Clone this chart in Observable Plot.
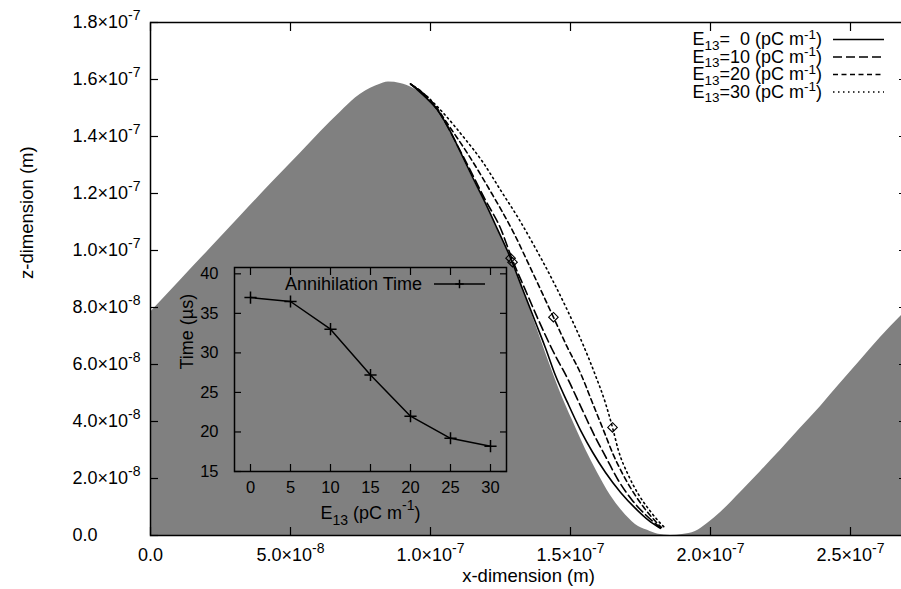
<!DOCTYPE html>
<html>
<head>
<meta charset="utf-8">
<script src="https://cdn.jsdelivr.net/npm/d3@7"></script>
<script src="https://cdn.jsdelivr.net/npm/@observablehq/plot@0.6"></script>
<style>
html, body { margin: 0; padding: 0; background: #fff; overflow: hidden; }
#chart { position: relative; width: 901px; height: 589px; overflow: hidden;
  font-family: "Liberation Sans", Arial, Helvetica, sans-serif; }
.lg { position: absolute; white-space: pre; font-size: 18px; line-height: 17px; height: 17px; color: #000; }
.lg sup, .lg sub { font-size: 0.75em; position: relative; vertical-align: baseline; line-height: 0; }
.lg sup { top: -0.45em; }
.lg sub { top: 0.35em; }
</style>
</head>
<body>
<div id="chart"></div>
<script>
// ---------------- data (lengths in nm) ----------------
// gray surface profile
const surfaceX = [0, 10.7, 21.4, 32.1, 42.9, 53.6, 60.7, 67.9, 73.2, 76.8, 80.4, 83.2, 85.0,
  89.3, 93.6, 98.2, 102.5, 106.8, 110.7, 115.0, 119.6, 123.9, 128.6, 132.9, 137.5, 141.8,
  146.4, 150.7, 155.4, 159.6, 164.3, 168.6, 173.2, 177.5, 181.4, 185.7, 190.0, 194.6, 198.9,
  203.6, 210.7, 217.9, 225.0, 232.1, 239.3, 246.4, 253.6, 260.7, 270.0];
const surfaceZ = [78.3, 89.6, 100.8, 112.0, 123.3, 134.2, 141.6, 148.6, 153.5, 156.0, 157.7, 158.8, 159.1,
  158.6, 157.0, 154.0, 149.5, 142.3, 134.2, 125.4, 116.6, 107.5, 97.3, 86.4, 74.1, 62.2,
  50.2, 40.4, 30.2, 22.1, 14.0, 8.4, 3.9, 1.8, 0.4, 0, 0.35, 1.4, 4.2,
  8.1, 15.1, 22.5, 29.9, 37.6, 45.3, 53.4, 61.5, 69.5, 79.0];

// trajectories for E13 = 0, 10, 20, 30 pC/m
const seriesE = [0, 10, 20, 30];
const curveX_E0 = [92.9, 98.2, 102.5, 106.8, 110.7, 115.0, 119.6, 123.9, 128.6, 132.9, 137.5, 141.1,
  144.6, 148.9, 153.6, 157.9, 162.5, 167.9, 173.2, 177.9, 182.1];
const curveZ_E0 = [158.4, 153.8, 149.3, 142.3, 134.5, 125.7, 116.6, 107.5, 97.3, 86.4, 74.8, 65.7,
  56.2, 46.7, 36.9, 29.2, 22.1, 15.1, 9.5, 5.3, 2.5];
const curveX_E10 = [92.9, 102.5, 111.4, 119.6, 125.0, 129.3, 133.9, 138.6, 143.6, 149.3, 154.3, 158.9,
  162.9, 167.1, 172.1, 177.1, 182.1];
const curveZ_E10 = [158.4, 149.3, 133.5, 117.7, 107.8, 96.6, 86.1, 75.5, 65.0, 54.4, 43.9, 34.4,
  27.0, 19.3, 12.3, 7.0, 2.8];
const curveX_E20 = [92.9, 100.0, 107.1, 114.3, 121.4, 129.6, 136.4, 143.9, 148.9, 153.6, 157.9, 161.8,
  165.4, 168.9, 173.2, 177.9, 182.5];
const curveZ_E20 = [158.4, 152.8, 143.0, 132.4, 120.8, 106.4, 92.4, 76.6, 66.0, 56.9, 46.4, 36.9,
  28.1, 21.1, 14.0, 7.7, 2.8];
const curveX_E30 = [92.9, 98.2, 104.6, 111.8, 118.9, 125.0, 131.4, 137.5, 143.6, 148.9, 154.3, 158.9,
  162.5, 165.0, 167.1, 170.7, 174.3, 178.6, 181.8, 183.6];
const curveZ_E30 = [158.4, 154.5, 148.2, 139.8, 130.7, 121.2, 111.3, 100.8, 89.6, 79.0, 67.4, 56.2,
  46.4, 37.9, 29.9, 21.1, 14.4, 8.4, 4.6, 2.8];

// open diamond markers on each trajectory
const markerX = [128.6, 129.3, 143.9, 165.0];
const markerZ = [97.3, 95.9, 76.6, 37.9];

// inset: annihilation time vs E13
const insetE = [0, 5, 10, 15, 20, 25, 30];
const insetTime = [37.0, 36.5, 33.0, 27.2, 22.0, 19.2, 18.2];

// ticks and labels
const xTicks = [0, 50, 100, 150, 200, 250];
const xTickLabels = ["0.0", "5.0×10^{-8}", "1.0×10^{-7}", "1.5×10^{-7}", "2.0×10^{-7}", "2.5×10^{-7}"];
const yTicks = [0, 20, 40, 60, 80, 100, 120, 140, 160, 180];
const yTickLabels = ["0.0", "2.0×10^{-8}", "4.0×10^{-8}", "6.0×10^{-8}", "8.0×10^{-8}",
  "1.0×10^{-7}", "1.2×10^{-7}", "1.4×10^{-7}", "1.6×10^{-7}", "1.8×10^{-7}"];
const insetXTicks = [0, 5, 10, 15, 20, 25, 30];
const insetYTicks = [15, 20, 25, 30, 35, 40];

const xTitle = "x-dimension (m)";
const yTitle = "z-dimension (m)";
const insetXTitle = "E_{13} (pC m^{-1})";
const insetYTitle = "Time (µs)";
const insetLegend = "Annihilation Time";
const legendLabels = seriesE.map(v => `E_{13}=${v < 10 ? "\u2007" + v : v} (pC m^{-1})`);

// ---------------- styles ----------------
const FONT = '"Liberation Sans", Arial, Helvetica, sans-serif';
const GRAY = "#808080";
const dashFor = {0: null, 10: "9,4", 20: "5,3.5", 30: "1.5,3.5"};

// ---------------- tables ----------------
const surface = surfaceX.map((x, i) => ({x, z: surfaceZ[i]}));
const curves = {
  0: curveX_E0.map((x, i) => ({x, z: curveZ_E0[i]})),
  10: curveX_E10.map((x, i) => ({x, z: curveZ_E10[i]})),
  20: curveX_E20.map((x, i) => ({x, z: curveZ_E20[i]})),
  30: curveX_E30.map((x, i) => ({x, z: curveZ_E30[i]}))
};
const markers = markerX.map((x, i) => ({x, z: markerZ[i]}));
const insetRows = insetE.map((e, i) => ({e, t: insetTime[i]}));
const xLab = new Map(xTicks.map((t, i) => [t, xTickLabels[i]]));
const yLab = new Map(yTicks.map((t, i) => [t, yTickLabels[i]]));

// ---------------- main plot ----------------
const main = Plot.plot({
  width: 910, height: 589,
  marginLeft: 150, marginRight: 4, marginTop: 22, marginBottom: 54,
  x: {domain: [0, 270]},
  y: {domain: [0, 180]},
  style: {fontFamily: FONT, fontSize: "18px", background: "white", maxWidth: "none", color: "black"},
  marks: [
    Plot.areaY(surface, {x: "x", y: "z", fill: GRAY, curve: "monotone-x"}),
    ...seriesE.map(v => Plot.line(curves[v], {x: "x", y: "z", stroke: "black", strokeWidth: 1.6,
      strokeDasharray: dashFor[v], curve: "monotone-x"})),
    Plot.dot(markers, {x: "x", y: "z", symbol: "diamond2", r: 4.3, stroke: "black", strokeWidth: 1.1, fill: "none"}),
    Plot.frame({stroke: "black", strokeWidth: 1.5}),
    Plot.axisX(xTicks, {anchor: "bottom", tickSize: -8, tickPadding: 21, strokeWidth: 1.2,
      tickFormat: d => xLab.get(d), label: null, fontSize: 18}),
    Plot.axisX(xTicks, {anchor: "top", tickSize: -8, strokeWidth: 1.2, tickFormat: () => "", label: null}),
    Plot.axisY(yTicks, {anchor: "left", tickSize: -8, tickPadding: 86, textAnchor: "start", strokeWidth: 1.2,
      tickFormat: d => yLab.get(d), label: null, fontSize: 18}),
    Plot.axisY(yTicks, {anchor: "right", tickSize: -8, strokeWidth: 1.2, tickFormat: () => "", label: null}),
    Plot.text([xTitle], {frameAnchor: "bottom", dy: 46, fontSize: 18.5}),
    Plot.text([yTitle], {frameAnchor: "left", dx: -123, rotate: -90, fontSize: 18.5})
  ]
});

// ---------------- inset plot ----------------
const inset = Plot.plot({
  width: 360, height: 290,
  marginLeft: 84, marginRight: 4, marginTop: 17, marginBottom: 69,
  x: {domain: [-2, 32]},
  y: {domain: [15, 40.8]},
  style: {fontFamily: FONT, fontSize: "16.5px", background: "transparent", maxWidth: "none",
    position: "absolute", left: "150px", top: "250px", overflow: "visible", color: "black"},
  marks: [
    Plot.line(insetRows, {x: "e", y: "t", stroke: "black", strokeWidth: 1.5}),
    Plot.dot(insetRows, {x: "e", y: "t", symbol: "plus", r: 4, stroke: "black", strokeWidth: 1.5}),
    Plot.frame({stroke: "black", strokeWidth: 1.5}),
    Plot.axisX(insetXTicks, {anchor: "bottom", tickSize: -7, tickPadding: 17, strokeWidth: 1.2, label: null, fontSize: 16.5}),
    Plot.axisX(insetXTicks, {anchor: "top", tickSize: -7, strokeWidth: 1.2, tickFormat: () => "", label: null}),
    Plot.axisY(insetYTicks, {anchor: "left", tickSize: -7, tickPadding: 23, strokeWidth: 1.2, label: null, fontSize: 16.5}),
    Plot.axisY(insetYTicks, {anchor: "right", tickSize: -7, strokeWidth: 1.2, tickFormat: () => "", label: null}),
    Plot.text([insetXTitle], {frameAnchor: "bottom", dy: 47, fontSize: 18}),
    Plot.text([insetYTitle], {frameAnchor: "left", dx: -47, rotate: -90, fontSize: 18})
  ]
});

const chart = document.getElementById("chart");
chart.appendChild(main);
chart.appendChild(inset);

// ---------------- super/subscripts in SVG text ----------------
function richSVG(svg) {
  svg.querySelectorAll("text").forEach(t => {
    const s = t.textContent;
    if (!/[\^_]\{/.test(s)) return;
    const fs = parseFloat(getComputedStyle(t).fontSize) || 18;
    while (t.firstChild) t.removeChild(t.firstChild);
    let cur = 0, last = 0, m;
    const re = /([\^_])\{([^}]*)\}/g;
    const add = (str, kind) => {
      if (!str) return;
      const sp = document.createElementNS("http://www.w3.org/2000/svg", "tspan");
      const target = kind === "^" ? -0.48 * fs : kind === "_" ? 0.38 * fs : 0;
      const d = target - cur;
      if (d) sp.setAttribute("dy", d.toFixed(2));
      if (kind) sp.setAttribute("font-size", (0.78 * fs).toFixed(2));
      cur = target;
      sp.textContent = str;
      t.appendChild(sp);
    };
    while ((m = re.exec(s))) { add(s.slice(last, m.index), ""); add(m[2], m[1]); last = re.lastIndex; }
    add(s.slice(last), "");
  });
}
richSVG(main);
richSVG(inset);

// ---------------- legends (HTML overlay) ----------------
const toHTML = s => s.replace(/\^\{([^}]*)\}/g, "<sup>$1</sup>").replace(/_\{([^}]*)\}/g, "<sub>$1</sub>");
const rowY = seriesE.map((v, i) => 39.5 + 17.5 * i);
seriesE.forEach((v, i) => {
  const d = document.createElement("div");
  d.className = "lg";
  d.style.right = (901 - 822) + "px";
  d.style.top = (rowY[i] - 8.5) + "px";
  d.innerHTML = toHTML(legendLabels[i]);
  chart.appendChild(d);
});
const lsvg = d3.create("svg").attr("width", 60).attr("height", 110)
  .style("position", "absolute").style("left", "833px").style("top", "0px");
seriesE.forEach((v, i) => {
  lsvg.append("line").attr("x1", 0).attr("x2", 51).attr("y1", rowY[i]).attr("y2", rowY[i])
    .attr("stroke", "black").attr("stroke-width", 1.5)
    .attr("stroke-dasharray", dashFor[v]);
});
chart.appendChild(lsvg.node());

// inset legend
const il = document.createElement("div");
il.className = "lg";
il.style.right = (901 - 422) + "px";
il.style.top = (284 - 8.5) + "px";
il.textContent = insetLegend;
chart.appendChild(il);
const isvg = d3.create("svg").attr("width", 60).attr("height", 20)
  .style("position", "absolute").style("left", "434px").style("top", "274px");
isvg.append("line").attr("x1", 0).attr("x2", 51).attr("y1", 10).attr("y2", 10)
  .attr("stroke", "black").attr("stroke-width", 1.5);
isvg.append("path").attr("d", "M21.3,10H29.7M25.5,5.8V14.2")
  .attr("stroke", "black").attr("stroke-width", 1.5).attr("fill", "none");
chart.appendChild(isvg.node());
</script>
</body>
</html>
